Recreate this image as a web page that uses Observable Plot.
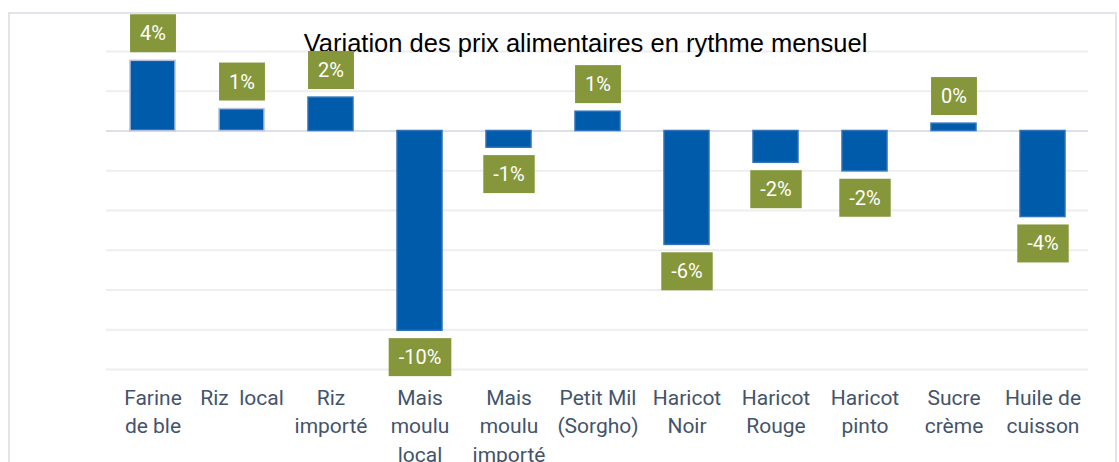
<!DOCTYPE html>
<html><head><meta charset="utf-8">
<script src="https://cdn.jsdelivr.net/npm/d3@7"></script>
<script src="https://cdn.jsdelivr.net/npm/@observablehq/plot@0.6"></script>
<style>
html,body{margin:0;padding:0;background:#fff;}
#wrap{position:relative;width:1119px;height:462px;overflow:hidden;}
#border{position:absolute;left:8px;top:12px;width:1109px;height:480px;border:2px solid #e1e5ea;box-sizing:border-box;pointer-events:none;}
#chart{position:absolute;left:0;top:0;}
</style></head><body>
<div id="wrap"><div id="chart"></div><div id="border"></div></div>
<script>
const title = "Variation des prix alimentaires en rythme mensuel";
const categories = [
  "Farine\nde ble", "Riz  local", "Riz\nimporté", "Mais\nmoulu\nlocal", "Mais\nmoulu\nimporté",
  "Petit Mil\n(Sorgho)", "Haricot\nNoir", "Haricot\nRouge", "Haricot\npinto", "Sucre\ncrème", "Huile de\ncuisson"
];
const values = [3.53, 1.1, 1.68, -10.05, -0.84, 0.97, -5.73, -1.6, -2.03, 0.37, -4.33];
const yTicks = [-12, -10, -8, -6, -4, -2, 0, 2, 4];

const data = categories.map((c, i) => ({cat: c, v: values[i], i}));
const fmt = v => `${Math.round(v)}%`;
const labelFont = "Roboto, 'Open Sans', sans-serif";

const plot = Plot.plot({
  width: 1119, height: 462,
  marginLeft: 106, marginRight: 31, marginTop: 51, marginBottom: 93,
  x: {domain: categories, paddingInner: 0.5, paddingOuter: 0.25, axis: null},
  y: {domain: [-12, 4], axis: null},
  style: {background: "transparent", fontFamily: labelFont, overflow: "visible"},
  marks: [
    Plot.gridY(yTicks, {stroke: "#eeeeee", strokeOpacity: 1, strokeWidth: 2}),
    Plot.ruleY([0], {stroke: "#dde1e7", strokeWidth: 2}),
    Plot.barY(data, {x: "cat", y: "v", fill: "#005BAA",
      stroke: d => d.i < 2 ? "#b6bfdc" : "#2f72b8", strokeWidth: 1.5}),
    Plot.axisX({label: null, tickSize: 0, tickPadding: 15, fontSize: 21, fill: "#44546A",
      lineHeight: 1.36, fontFamily: labelFont}),
    Plot.text([title], {frameAnchor: "top", dx: -12, dy: -8, lineAnchor: "middle",
      fontSize: 25.5, fill: "#000", fontFamily: "'Liberation Sans', Arial, sans-serif"}),
    Plot.text(data, {filter: d => d.v >= 0, x: "cat", y: "v", text: d => fmt(d.v), dy: -27,
      lineAnchor: "middle", fill: "#fff", fontSize: 20}),
    Plot.text(data, {filter: d => d.v < 0, x: "cat", y: "v", text: d => fmt(d.v), dy: 27,
      lineAnchor: "middle", fill: "#fff", fontSize: 20})
  ]
});
document.getElementById("chart").appendChild(plot);

// green boxes behind data labels
const NS = "http://www.w3.org/2000/svg";
Array.from(plot.querySelectorAll("text"))
  .filter(t => /%$/.test(t.textContent.trim()))
  .forEach(t => {
    const b = t.getBBox();
    const r = document.createElementNS(NS, "rect");
    const padX = 10, h = 38;
    const cy = b.y + b.height / 2;
    r.setAttribute("x", b.x - padX);
    r.setAttribute("y", cy - h / 2);
    r.setAttribute("width", b.width + 2 * padX);
    r.setAttribute("height", h);
    r.setAttribute("fill", "#85973A");
    const tr = t.getAttribute("transform");
    if (tr) r.setAttribute("transform", tr);
    t.parentNode.insertBefore(r, t);
  });
</script>
</body></html>
